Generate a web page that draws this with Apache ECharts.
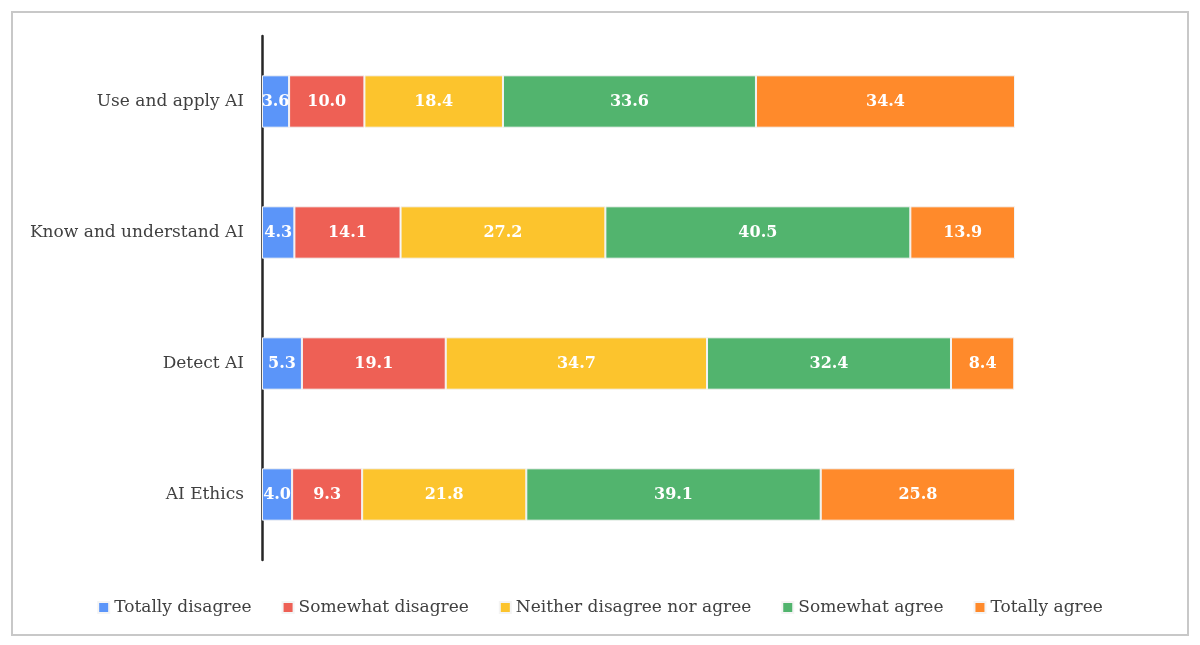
<!DOCTYPE html>
<html><head><meta charset="utf-8">
<script src="https://cdn.jsdelivr.net/npm/echarts@6/dist/echarts.min.js"></script>
<style>html,body{margin:0;padding:0;background:#fff}#c{width:1200px;height:645px}</style>
</head><body><div id="c"></div>
<script>
const categories = ["Use and apply AI", "Know and understand AI", "Detect AI", "AI Ethics"];
const seriesNames = ["Totally disagree", "Somewhat disagree", "Neither disagree nor agree", "Somewhat agree", "Totally agree"];
const totallyDisagree = [3.6, 4.3, 5.3, 4.0];
const somewhatDisagree = [10.0, 14.1, 19.1, 9.3];
const neither = [18.4, 27.2, 34.7, 21.8];
const somewhatAgree = [33.6, 40.5, 32.4, 39.1];
const totallyAgree = [34.4, 13.9, 8.4, 25.8];
const colors = ["#5b95f9", "#ee6055", "#fcc42d", "#52b46e", "#ff8a2b"];
const values = [totallyDisagree, somewhatDisagree, neither, somewhatAgree, totallyAgree];
const FONT = "DejaVu Serif";

const chart = echarts.init(document.getElementById('c'), null, {renderer: 'canvas'});
chart.setOption({
  animation: false,
  textStyle: {fontFamily: FONT},
  color: colors,
  grid: {left: 262, right: 185, top: 36, bottom: 85, containLabel: false},
  xAxis: {type: 'value', min: 0, max: 100, show: false},
  yAxis: {
    type: 'category', data: categories, inverse: true,
    axisLine: {show: true, lineStyle: {color: '#262626', width: 2.5}},
    axisTick: {show: false},
    axisLabel: {color: '#404040', fontSize: 17, fontFamily: FONT, margin: 18}
  },
  legend: {
    top: 594, left: 'center', itemWidth: 11, itemHeight: 11, itemGap: 30,
    icon: 'rect',
    textStyle: {color: '#404040', fontSize: 17, fontFamily: FONT},
    data: seriesNames
  },
  graphic: [{type: 'rect', shape: {x: 12, y: 12, width: 1176, height: 623}, style: {fill: 'none', stroke: '#c8c8c8', lineWidth: 2}, silent: true}],
  series: seriesNames.map((n, i) => ({
    name: n, type: 'bar', stack: 'total', data: values[i],
    barCategoryGap: '60%',
    itemStyle: {color: colors[i], borderColor: '#f4f4f4', borderWidth: 1},
    label: {show: true, position: 'inside', color: '#fff', fontSize: 16, fontWeight: 'bold', fontFamily: FONT,
      formatter: p => p.value.toFixed(1)}
  }))
});
</script></body></html>
